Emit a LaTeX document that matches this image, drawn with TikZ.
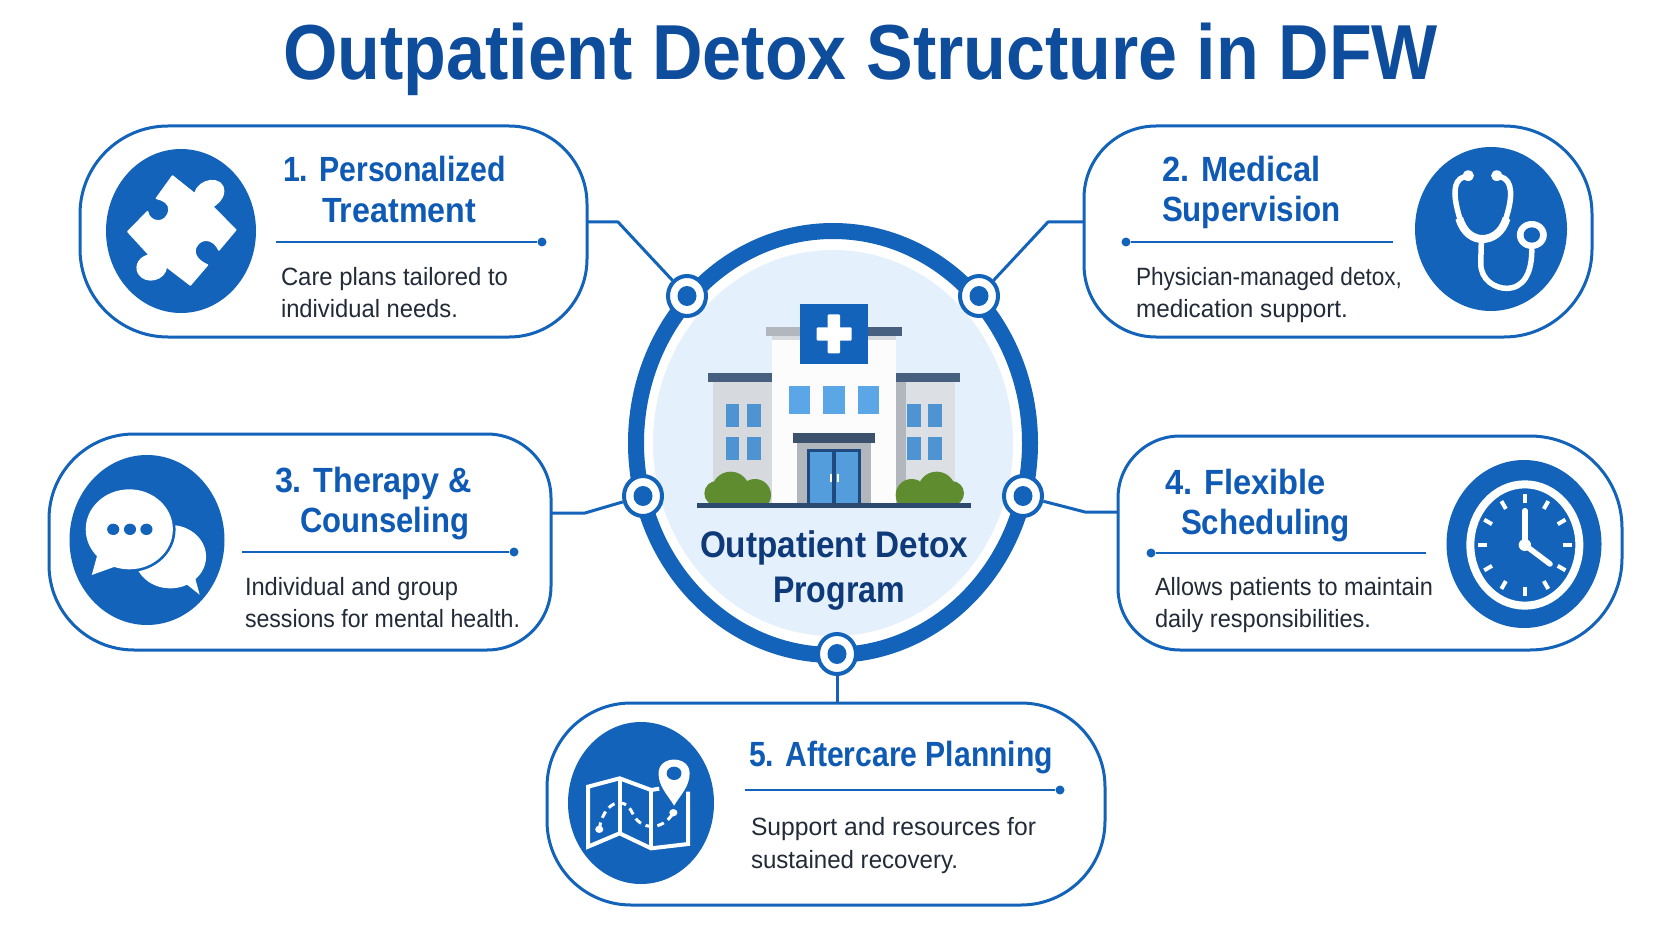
\documentclass[tikz,border=0pt]{standalone}
\usepackage{graphicx}
\usepackage{fontspec}
\setmainfont{Liberation Sans}
\usetikzlibrary{shapes.geometric,calc}
\definecolor{bluemain}{HTML}{1263B9}
\definecolor{headblue}{HTML}{0F5AB4}
\definecolor{titleblue}{HTML}{0E4C9C}
\definecolor{navytext}{HTML}{0E3A7A}
\definecolor{bodytext}{HTML}{232B38}
\definecolor{disk}{HTML}{E4F0FB}
\definecolor{roofdark}{HTML}{47607F}
\definecolor{wing}{HTML}{D6D9DE}
\definecolor{wingshade}{HTML}{B2B6BD}
\definecolor{glass}{HTML}{5AA6E6}
\definecolor{doorframe}{HTML}{1E4A80}
\definecolor{bush}{HTML}{5E8C2E}
\definecolor{groundc}{HTML}{2C4A70}
\newsavebox\fitbox
\newcommand\fittext[3]{%
  \sbox\fitbox{\fontsize{#2}{#2}\selectfont #3}%
  \pgfmathsetmacro\fitratio{(#1)/(\the\wd\fitbox)}%
  \scalebox{\fitratio}[1]{\usebox\fitbox}}
% name, left, right, baseline, size, style, text
\newcommand\Tx[7]{\node[txt,#6] (#1) at (#2,#4) {\fittext{#3-#2}{#5}{#7}};}
% card outline: node name, left radius, right radius
\newcommand\cardoutline[3]{\draw[cardline,rounded corners=#3pt] (#1.north) -- (#1.north east) -- (#1.south east) -- (#1.south) [rounded corners=#2pt] -- (#1.south west) -- (#1.north west) -- cycle;}
\tikzset{
  txt/.style={anchor=base west,inner sep=0pt,outer sep=0pt},
  head/.style={text=headblue,font=\bfseries},
  body/.style={text=bodytext},
  card/.style={shape=rectangle,inner sep=0pt,outer sep=0pt},
  cardline/.style={draw=bluemain,line width=3pt},
  iconbg/.style={shape=ellipse,fill=bluemain,inner sep=0pt},
  hubdot/.style={shape=ellipse,draw=bluemain,line width=4pt,fill=white,inner sep=0pt,minimum width=38pt,minimum height=40pt},
  hubcore/.style={shape=ellipse,fill=bluemain,inner sep=0pt,minimum width=19pt,minimum height=20pt},
  link/.style={draw=bluemain,line width=3pt,line join=round},
  rulel/.style={draw=bluemain,line width=2pt},
  ruledot/.style={shape=circle,fill=bluemain,inner sep=0pt,minimum size=9pt},
  wht/.style={draw=white,line cap=round,line join=round},
}
\begin{document}
\begin{tikzpicture}[x=1pt,y=-1pt]
\useasboundingbox (0,0) rectangle (1672,941);
\fill[white] (0,0) rectangle (1672,941);

% title
\node[txt,text=titleblue,font=\bfseries] (title) at (283,80) {\fittext{1155}{78}{Outpatient Detox Structure in DFW}};

% cards
\node[card,minimum width=507pt,minimum height=211pt] (c1) at (333.5,231.5) {};
\node[card,minimum width=508pt,minimum height=211pt] (c2) at (1338,231.5) {};
\node[card,minimum width=502pt,minimum height=216pt] (c3) at (300,542) {};
\node[card,minimum width=504pt,minimum height=214pt] (c4) at (1370,543) {};
\node[card,minimum width=558pt,minimum height=202pt] (c5) at (826,804) {};
\cardoutline{c1}{88}{78}
\cardoutline{c2}{72}{88}
\cardoutline{c3}{85}{64}
\cardoutline{c4}{62}{92}
\cardoutline{c5}{84}{84}

% central circle
\node[shape=ellipse,fill=white,draw=bluemain,line width=16pt,minimum width=394pt,minimum height=424pt,inner sep=0pt] (hub) at (833,443) {};
\node[shape=ellipse,fill=disk,minimum width=360pt,minimum height=386pt,inner sep=0pt] (hubdisk) at (833,443) {};

% hub connection points
\node[hubdot] (n1) at (687,296) {};
\node[hubdot] (n2) at (979,296) {};
\node[hubdot] (n3) at (643,496) {};
\node[hubdot] (n4) at (1023,496) {};
\node[hubdot] (n5) at (837,654) {};
\node[hubcore] at (n1) {};
\node[hubcore] at (n2) {};
\node[hubcore] at (n3) {};
\node[hubcore] at (n4) {};
\node[hubcore] at (n5) {};

% connectors
\draw[link] ([yshift=9.5pt]c1.east) -- ++(31,0) -- (n1);
\draw[link] ([yshift=9.5pt]c2.west) -- ++(-36,0) -- (n2);
\draw[link] ([yshift=29pt]c3.east) -- ++(34,0) -- (n3);
\draw[link] ([yshift=31pt]c4.west) -- ++(-33,0) -- (n4);
\draw[link] (n5) -- (n5|-c5.north);

% building
\begin{scope}[shift={(600,200)},x=0.33333pt,y=-0.33333pt]
\fill[wing] (338,545) rectangle (515,910);
\fill[wing!85!white] (888,545) rectangle (1065,910);
\fill[wingshade] (888,545) rectangle (918,910);
\fill[roofdark] (323,518) rectangle (515,545);
\fill[roofdark] (888,518) rectangle (1080,545);
\fill[wingshade] (498,380) rectangle (600,408);
\fill[roofdark] (805,380) rectangle (905,408);
\fill[wing] (515,408) rectangle (888,422);
\fill[white!92!wing] (515,420) rectangle (888,910);
\fill[bluemain] (600,312) rectangle (805,492);
\fill[white,rounded corners=1pt] (683,343) rectangle (720,460);
\fill[white,rounded corners=1pt] (650,382) rectangle (755,422);
\foreach \a/\b in {567/630,670/735,775/838}
  \fill[glass] (\a,558) rectangle (\b,642);
\foreach \a/\b in {377/418,441/483,920/962,985/1027}{
  \fill[glass!80!doorframe] (\a,611) rectangle (\b,680);
  \fill[glass!80!doorframe] (\a,712) rectangle (\b,780);
}
\fill[wingshade] (592,728) rectangle (812,910);
\fill[roofdark!85!black] (580,700) rectangle (825,728);
\fill[doorframe] (620,748) rectangle (782,910);
\fill[glass!90!doorframe] (630,757) rectangle (697,910);
\fill[glass!90!doorframe] (707,757) rectangle (773,910);
\fill[white] (689,822) rectangle (695,846);
\fill[white] (712,822) rectangle (718,846);
\begin{scope}
\clip (300,780) rectangle (1100,910);
\fill[bush] (392,872) circle [radius=57];
\fill[bush] (350,880) circle [radius=37];
\fill[bush] (465,885) circle [radius=48];
\fill[bush] (1010,872) circle [radius=57];
\fill[bush] (935,885) circle [radius=48];
\fill[bush] (1055,880) circle [radius=37];
\end{scope}
\fill[groundc] (292,910) rectangle (1112,925);
\end{scope}

% hub text
\node[txt,text=navytext,font=\bfseries] (hubt1) at (700,557) {\fittext{268}{37}{Outpatient Detox}};
\node[txt,text=navytext,font=\bfseries] (hubt2) at (773,602) {\fittext{132}{37}{Program}};

% icon discs
\node[iconbg,minimum width=150pt,minimum height=164pt] (i1) at (181,231) {};
\node[iconbg,minimum width=152pt,minimum height=164pt] (i2) at (1491,229) {};
\node[iconbg,minimum width=155pt,minimum height=170pt] (i3) at (147,540) {};
\node[iconbg,minimum width=155pt,minimum height=168pt] (i4) at (1524,544) {};
\node[iconbg,minimum width=146pt,minimum height=162pt] (i5) at (641,803) {};

% puzzle
\begin{scope}[shift={(60,110)},x=0.35714pt,y=-0.33333pt]
\fill[white,draw=white,line width=1.5pt,line join=round] (315,198) -- (378,252) .. controls (385,205) and (460,195) .. (458,245) .. controls (456,270) and (440,280) .. (428,290) -- (492,360) -- (445,420) .. controls (430,385) and (395,380) .. (380,412) .. controls (372,435) and (390,455) .. (413,465) -- (365,525) -- (298,470) .. controls (295,510) and (240,525) .. (220,490) .. controls (208,465) and (225,440) .. (250,435) -- (190,365) -- (245,305) .. controls (250,340) and (300,345) .. (305,300) .. controls (307,280) and (290,270) .. (270,265) -- cycle;
\end{scope}

% stethoscope
\begin{scope}[shift={(1070,110)},x=0.35714pt,y=-0.33333pt]
\draw[wht,line width=5.5pt] (1105,200) .. controls (1068,210) and (1075,265) .. (1090,320) .. controls (1102,370) and (1130,385) .. (1155,385) .. controls (1180,385) and (1210,370) .. (1222,320) .. controls (1238,265) and (1242,210) .. (1205,200);
\draw[wht,line width=8pt,line cap=butt] (1090,325) .. controls (1102,370) and (1130,387) .. (1155,387) .. controls (1180,387) and (1210,370) .. (1222,325);
\draw[wht,line width=5.5pt] (1152,385) -- (1150,460) .. controls (1150,510) and (1190,535) .. (1222,535) .. controls (1270,535) and (1293,490) .. (1293,420);
\fill[white] (1115,197) circle [radius=16];
\fill[white] (1195,197) circle [radius=16];
\fill[white] (1293,375) circle [radius=42];
\fill[bluemain] (1293,375) circle [radius=23];
\end{scope}

% speech bubbles
\begin{scope}[shift={(40,420)},x=0.35714pt,y=-0.33333pt]
\fill[white] (365,410) ellipse [x radius=100,y radius=95];
\fill[white] (395,480) -- (447,524) -- (432,465) -- cycle;
\draw[bluemain,line width=4pt,fill=white] (250,328) ellipse [x radius=124,y radius=122];
\fill[white] (163,395) -- (145,465) -- (215,438) -- cycle;
\fill[white] (250,328) ellipse [x radius=122,y radius=120];
\foreach \a in {205,252,298} \fill[bluemain] (\a,328) circle [radius=17];
\end{scope}

% clock
\begin{scope}[shift={(1100,420)},x=0.34483pt,y=-0.33333pt]
\draw[white,line width=8pt] (1232,375) ellipse [x radius=158,y radius=182];
\foreach \a in {0,30,...,330}
  \draw[white,line width=4pt] ($(1232,375)+({110*cos(\a)},{125*sin(\a)})$) -- ($(1232,375)+({136*cos(\a)},{152*sin(\a)})$);
\draw[wht,line width=5.5pt] (1232,375) -- (1232,272);
\draw[wht,line width=5.5pt] (1232,375) -- (1305,432);
\fill[white] (1232,375) circle [radius=18];
\end{scope}

% map
\begin{scope}[shift={(540,690)},x=0.37037pt,y=-0.33333pt]
\draw[wht,line width=4pt,line cap=butt,line join=miter] (322,296) -- (300,300) -- (215,265) -- (130,290) -- (130,470) -- (215,430) -- (300,475) -- (400,462) -- (400,305);
\draw[white,line width=4pt] (215,265) -- (215,430) (300,300) -- (300,475);
\draw[white,line width=3pt,dash pattern=on 7pt off 5pt] (160,418) .. controls (170,340) and (225,310) .. (250,370) .. controls (270,420) and (330,425) .. (360,368);
\fill[white] (160,418) circle [radius=11];
\fill[white] (360,368) circle [radius=11];
\fill[white] (362,347) .. controls (345,315) and (320,290) .. (320,250) .. controls (320,195) and (404,195) .. (404,250) .. controls (404,290) and (379,315) .. (362,347) -- cycle;
\fill[bluemain] (362,250) circle [radius=20];
\end{scope}

% card 1
\Tx{t1a}{283}{506}{182}{35}{head}{1. Personalized}
\Tx{t1b}{322}{476}{223}{35}{head}{Treatment}
\node[ruledot] (d1) at (542,242) {};
\coordinate (e1) at (276,242);
\draw[rulel] (e1) -- (d1);
\Tx{t1c}{281}{508}{285}{25}{body}{Care plans tailored to}
\Tx{t1d}{281}{458}{317}{25}{body}{individual needs.}

% card 2
\Tx{t2a}{1162}{1321}{182}{35}{head}{2. Medical}
\Tx{t2b}{1162}{1341}{222}{35}{head}{Supervision}
\node[ruledot] (d2) at (1126,242) {};
\coordinate (e2) at (1393,242);
\draw[rulel] (e2) -- (d2);
\Tx{t2c}{1136}{1402}{285}{25}{body}{Physician-managed detox,}
\Tx{t2d}{1136}{1348}{317}{25}{body}{medication support.}

% card 3
\Tx{t3a}{275}{472}{492}{35}{head}{3. Therapy \&}
\Tx{t3b}{300}{469}{532}{35}{head}{Counseling}
\node[ruledot] (d3) at (514,552) {};
\coordinate (e3) at (242,552);
\draw[rulel] (e3) -- (d3);
\Tx{t3c}{245}{458}{595}{25}{body}{Individual and group}
\Tx{t3d}{245}{520}{627}{25}{body}{sessions for mental health.}

% card 4
\Tx{t4a}{1165}{1326}{494}{35}{head}{4. Flexible}
\Tx{t4b}{1181}{1350}{534}{35}{head}{Scheduling}
\node[ruledot] (d4) at (1151,553) {};
\coordinate (e4) at (1426,553);
\draw[rulel] (e4) -- (d4);
\Tx{t4c}{1155}{1433}{595}{25}{body}{Allows patients to maintain}
\Tx{t4d}{1155}{1371}{627}{25}{body}{daily responsibilities.}

% card 5
\Tx{t5a}{749}{1053}{766}{35}{head}{5. Aftercare Planning}
\node[ruledot] (d5) at (1060,790) {};
\coordinate (e5) at (745,790);
\draw[rulel] (e5) -- (d5);
\Tx{t5c}{751}{1036}{835}{25}{body}{Support and resources for}
\Tx{t5d}{751}{958}{868}{25}{body}{sustained recovery.}
\end{tikzpicture}
\end{document}
